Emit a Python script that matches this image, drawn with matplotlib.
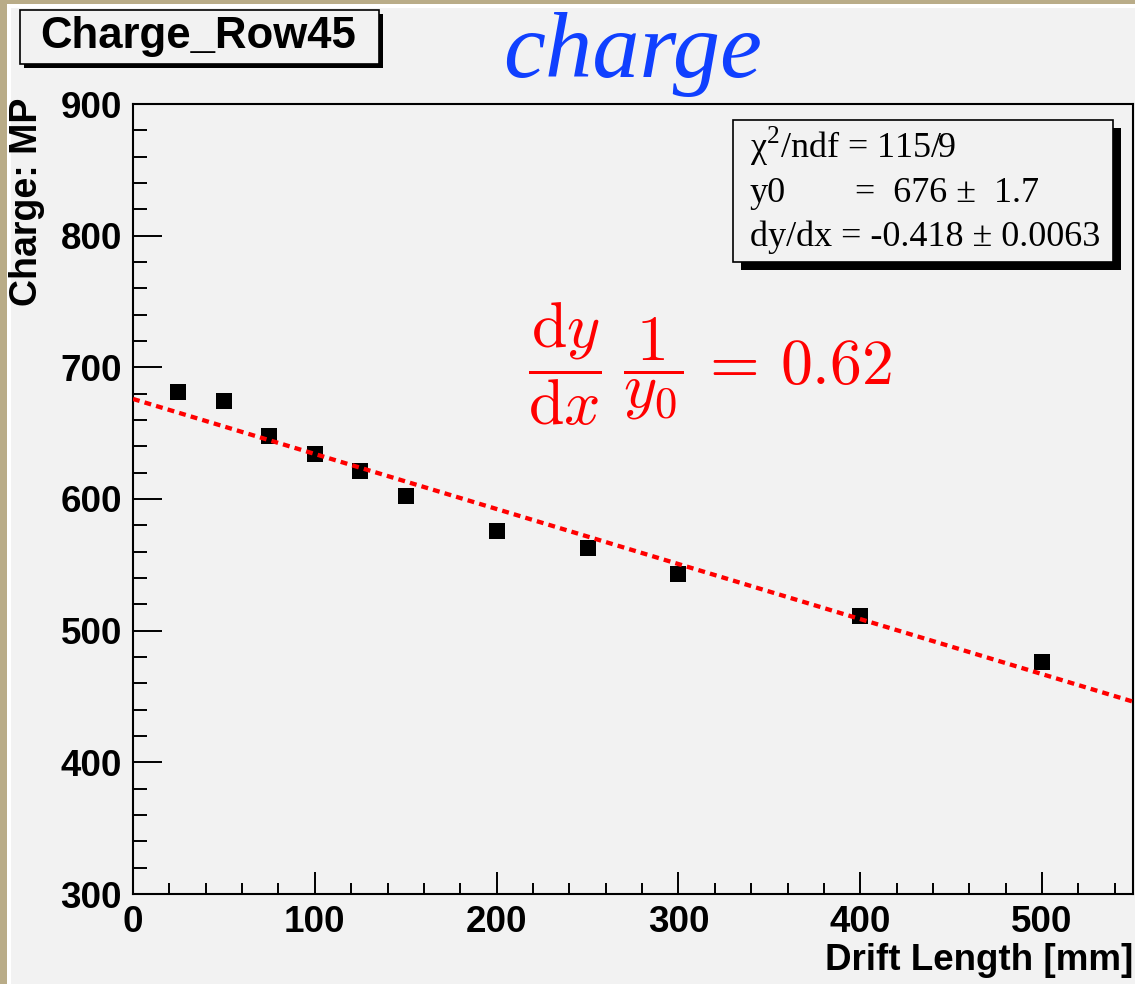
import numpy as np
import matplotlib.pyplot as plt
from matplotlib.patches import Rectangle
from matplotlib.ticker import MultipleLocator

# measured charge (most probable value) per drift length
drift_length = [25, 50, 75, 100, 125, 150, 200, 250, 300, 400, 500]
charge_mp = [681, 674.5, 648, 634, 621, 602, 576, 562.5, 543, 511, 476.5]

# linear fit result
fit_y0 = 676
fit_y0_err = 1.7
fit_slope = -0.418
fit_slope_err = 0.0063
fit_chi2 = 115
fit_ndf = 9
attenuation = 0.62

x_range = [0, 550]
y_range = [300, 900]

W, H = 1135, 984
PANEL = '#f2f2f2'


def fx(px):
    return px / W


def fy(py):
    return 1 - py / H


def fig_rect(x0, y0, x1, y1, **kw):
    # rectangle given in pixel coords, origin top-left
    return Rectangle((fx(x0), fy(y1)), fx(x1) - fx(x0), fy(y0) - fy(y1),
                     transform=fig.transFigure, **kw)


plt.rcParams['font.family'] = ['Liberation Sans', 'DejaVu Sans']
plt.rcParams['font.weight'] = 'bold'

fig = plt.figure(figsize=(W / 100, H / 100), dpi=100)
fig.patch.set_facecolor('#b9ac88')
fig.add_artist(fig_rect(7, 4, W + 5, H + 5, facecolor='white', edgecolor='none', zorder=-3))
fig.add_artist(fig_rect(11, 8, W + 5, H + 5, facecolor=PANEL, edgecolor='none', zorder=-2))

ax = fig.add_axes([fx(133), fy(894), fx(1133) - fx(133), fy(104) - fy(894)])
ax.set_facecolor(PANEL)
for s in ax.spines.values():
    s.set_linewidth(1.5)

ax.plot(drift_length, charge_mp, 's', color='black', markersize=12,
        markeredgewidth=0, zorder=3)

# fit line over the whole x range
fit_x = np.array(x_range, dtype=float)
ax.plot(fit_x, fit_y0 + fit_slope * fit_x, color='red', linewidth=3.1,
        linestyle=(0, (1.6, 1.2)), zorder=4)

ax.set_xlim(x_range)
ax.set_ylim(y_range)
ax.xaxis.set_major_locator(MultipleLocator(100))
ax.xaxis.set_minor_locator(MultipleLocator(20))
ax.yaxis.set_major_locator(MultipleLocator(100))
ax.yaxis.set_minor_locator(MultipleLocator(20))
ax.tick_params(which='both', direction='in', top=False, right=False,
               width=1.4, labelsize=26.5, pad=8)
ax.tick_params(axis='x', which='major', length=16)
ax.tick_params(axis='x', which='minor', length=8)
ax.tick_params(axis='y', which='major', length=21)
ax.tick_params(axis='y', which='minor', length=10)

fig.text(fx(1133), fy(970), 'Drift Length [mm]', ha='right', va='baseline',
         fontsize=26.5)
fig.text(fx(27), fy(98), 'Charge: MP', ha='center', va='top', rotation=90,
         fontsize=27)

# title box
fig.add_artist(fig_rect(24, 14, 383, 68, facecolor='black', edgecolor='none', zorder=5))
fig.add_artist(fig_rect(20, 10, 379, 64, facecolor=PANEL, edgecolor='black',
                        linewidth=1.2, zorder=6))
fig.text(fx(198), fy(48), 'Charge_Row45', ha='center', va='baseline',
         fontsize=31.5, zorder=7)

fig.text(fx(503), fy(77), 'charge', ha='left', va='baseline', fontsize=68,
         family='Liberation Serif', style='italic', weight='normal',
         color='#1040ff')

# fit statistics box
fig.add_artist(fig_rect(741, 128, 1121, 270, facecolor='black', edgecolor='none', zorder=5))
fig.add_artist(fig_rect(733, 120, 1113, 262, facecolor=PANEL, edgecolor='black',
                        linewidth=1.2, zorder=6))
stat_kw = dict(ha='left', va='baseline', fontsize=26, family='Liberation Serif',
               weight='normal', zorder=7)
fig.text(fx(750), fy(158), 'χ$^{\\mathregular{2}}$/ndf = %d/%d' % (fit_chi2, fit_ndf), **stat_kw)
fig.text(fx(750), fy(202), 'y0', **stat_kw)
fig.text(fx(855), fy(202), '=  %d ±  %.1f' % (fit_y0, fit_y0_err), **stat_kw)
fig.text(fx(750), fy(246), 'dy/dx = %.3f ± %.4f' % (fit_slope, fit_slope_err), **stat_kw)

ax.text(217, 687,
        r'$\dfrac{\mathrm{d}y}{\mathrm{d}x}\;\dfrac{1}{y_0}\,=\,%.2f$' % attenuation,
        color='red', fontsize=46, math_fontfamily='cm', ha='left', va='baseline')

fig.savefig('out.png', dpi=100, facecolor=fig.get_facecolor())
